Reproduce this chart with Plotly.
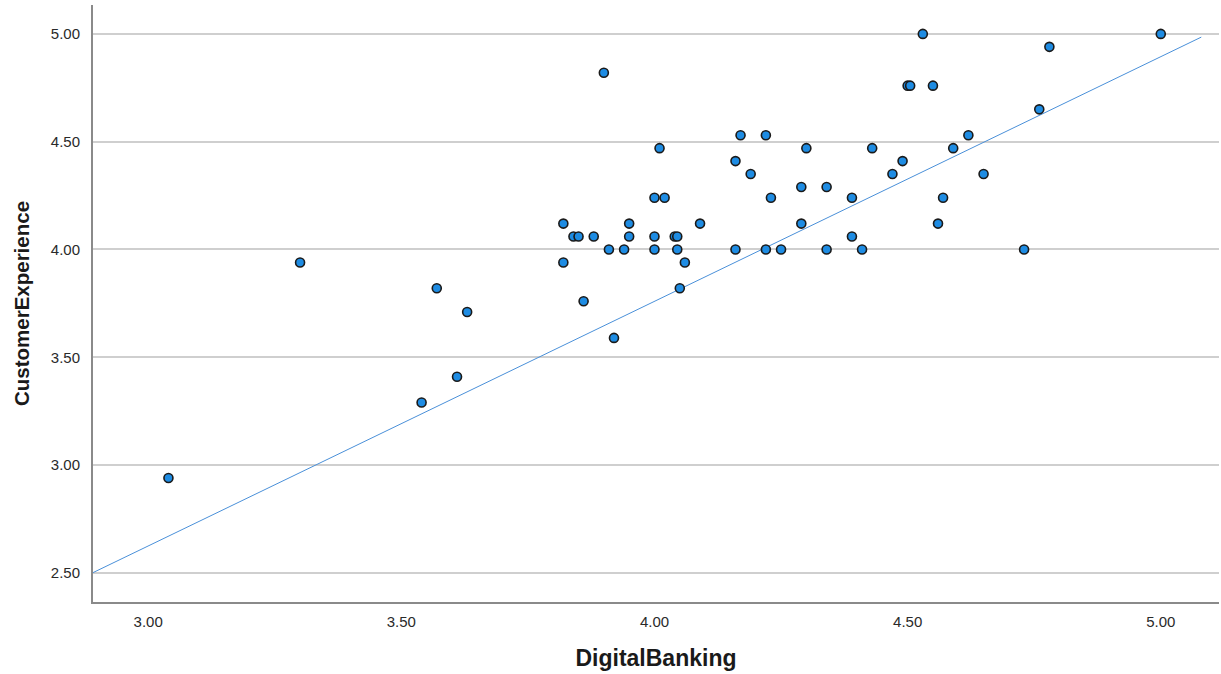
import plotly.graph_objects as go

digital_banking = [3.04, 3.30, 3.54, 3.57, 3.61, 3.63, 3.82, 3.82, 3.84, 3.85,
                   3.86, 3.88, 3.90, 3.91, 3.92, 3.94, 3.95, 3.95, 4.00, 4.00,
                   4.00, 4.01, 4.02, 4.04, 4.045, 4.045, 4.05, 4.06, 4.09, 4.16,
                   4.16, 4.17, 4.19, 4.22, 4.22, 4.23, 4.25, 4.29, 4.29, 4.30,
                   4.34, 4.34, 4.39, 4.39, 4.41, 4.43, 4.47, 4.49, 4.50, 4.505,
                   4.53, 4.55, 4.56, 4.57, 4.59, 4.62, 4.65, 4.73, 4.76, 4.78,
                   5.00]
customer_experience = [2.94, 3.94, 3.29, 3.82, 3.41, 3.71, 4.12, 3.94, 4.06, 4.06,
                       3.76, 4.06, 4.82, 4.00, 3.59, 4.00, 4.12, 4.06, 4.24, 4.06,
                       4.00, 4.47, 4.24, 4.06, 4.06, 4.00, 3.82, 3.94, 4.12, 4.00,
                       4.41, 4.53, 4.35, 4.53, 4.00, 4.24, 4.00, 4.29, 4.12, 4.47,
                       4.29, 4.00, 4.24, 4.06, 4.00, 4.47, 4.35, 4.41, 4.76, 4.76,
                       5.00, 4.76, 4.12, 4.24, 4.47, 4.53, 4.35, 4.00, 4.65, 4.94,
                       5.00]
fit_x = [2.89, 5.08]
fit_y = [2.50, 4.985]
tick_vals_x = [3.0, 3.5, 4.0, 4.5, 5.0]
tick_vals_y = [2.5, 3.0, 3.5, 4.0, 4.5, 5.0]

fig = go.Figure()
fig.add_trace(go.Scatter(
    x=fit_x, y=fit_y, mode="lines",
    line=dict(color="#4a90d9", width=1), showlegend=False, hoverinfo="skip"))
fig.add_trace(go.Scatter(
    x=digital_banking, y=customer_experience, mode="markers",
    marker=dict(size=9, color="#1e8ce3", line=dict(color="#1a1a1a", width=1.6)),
    showlegend=False))

fig.update_layout(
    width=1221, height=674,
    margin=dict(l=93, r=2, t=5, b=72),
    paper_bgcolor="white", plot_bgcolor="white",
    font=dict(family="Liberation Sans, Arial, sans-serif", color="#222"),
    xaxis=dict(
        range=[2.891, 5.115], tickvals=tick_vals_x, tickformat=".2f",
        showgrid=False, zeroline=False, showline=True, linecolor="#8a8a8a",
        linewidth=2, ticks="", ticklabelstandoff=5,
        tickfont=dict(size=15, color="#2a2a2a"),
        title=dict(text="<b>DigitalBanking</b>", font=dict(size=23, color="#1a1a1a"), standoff=21)),
    yaxis=dict(
        range=[2.365, 5.134], tickvals=tick_vals_y, tickformat=".2f",
        showgrid=True, gridcolor="#cfcfcf", gridwidth=2, zeroline=False,
        showline=True, linecolor="#8a8a8a", linewidth=2, ticks="",
        ticklabelstandoff=8,
        tickfont=dict(size=15, color="#2a2a2a"),
        title=dict(text="<b>CustomerExperience</b>", font=dict(size=20.5, color="#1a1a1a"), standoff=16)),
)

fig.write_html("out.html", config={"displayModeBar": False},
               post_script="document.body.style.margin='0';")
